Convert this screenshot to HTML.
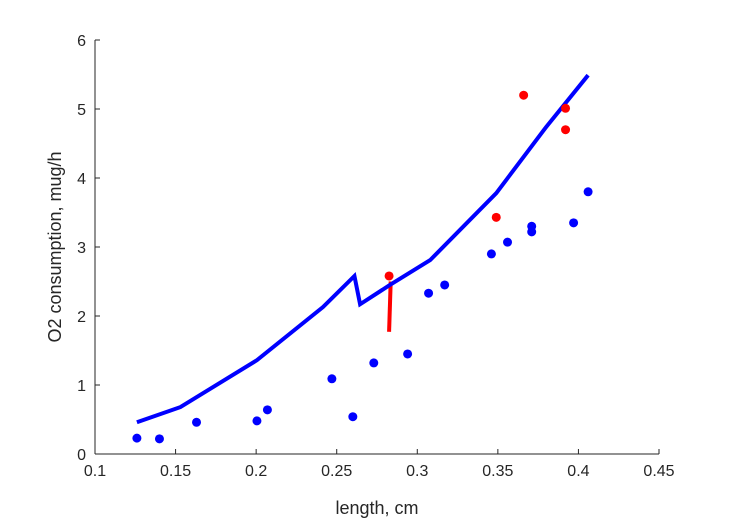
<!DOCTYPE html>
<html><head><meta charset="utf-8"><style>
body{margin:0;background:#fff;}
svg{display:block;font-family:"Liberation Sans",sans-serif;}
</style></head><body>
<svg id="chart" width="729" height="521" viewBox="0 0 729 521"></svg>
<script>
const xTicks=[0.1,0.15,0.2,0.25,0.3,0.35,0.4,0.45];
const yTicks=[0,1,2,3,4,5,6];
const blueX=[0.126,0.140,0.163,0.2005,0.207,0.247,0.260,0.273,0.294,0.307,0.317,0.346,0.356,0.371,0.371,0.397,0.406];
const blueY=[0.23,0.22,0.46,0.48,0.64,1.09,0.54,1.32,1.45,2.33,2.45,2.90,3.07,3.30,3.22,3.35,3.80];
const redX=[0.2825,0.349,0.366,0.392,0.392];
const redY=[2.58,3.43,5.20,5.01,4.70];
const curveX=[0.126,0.153,0.2005,0.2415,0.261,0.2645,0.283,0.308,0.349,0.380,0.406];
const curveY=[0.46,0.68,1.36,2.13,2.58,2.17,2.45,2.81,3.78,4.74,5.49];
const redLineX=[0.2835,0.2825];
const redLineY=[2.50,1.77];
const X0=95,X1=659,Y0=454,Y1=40;
const sx=v=>X0+(v-0.1)/(0.45-0.1)*(X1-X0);
const sy=v=>Y0-(v-0)/(6-0)*(Y0-Y1);
const svg=document.getElementById('chart');
const NS='http://www.w3.org/2000/svg';
function mk(t,a){const e=document.createElementNS(NS,t);for(const k in a)e.setAttribute(k,a[k]);svg.appendChild(e);return e;}
let e;
e=mk('line',{x1:X0,y1:Y0,x2:X1,y2:Y0,stroke:'#262626','stroke-width':1});


e=mk('line',{x1:X0,y1:Y0,x2:X0,y2:Y1,stroke:'#262626','stroke-width':1});


xTicks.forEach(v=>{
 e=mk('line',{x1:sx(v),y1:Y0,x2:sx(v),y2:Y0-5,stroke:'#262626'});
 
 
 e=mk('text',{x:sx(v),y:Y0+22,'text-anchor':'middle','font-size':16,fill:'#262626'});
 e.textContent=String(v);
 
 
});
yTicks.forEach(v=>{
 e=mk('line',{x1:X0,y1:sy(v),x2:X0+5,y2:sy(v),stroke:'#262626'});
 
 
 e=mk('text',{x:X0-9,y:sy(v)+6,'text-anchor':'end','font-size':16,fill:'#262626'});
 e.textContent=String(v);
 
 
});
e=mk('text',{x:377,y:514,'text-anchor':'middle','font-size':18,fill:'#262626'});
e.textContent='length, cm';


e=mk('text',{x:0,y:0,'text-anchor':'middle','font-size':18,fill:'#262626',transform:'translate(61,247) rotate(-90)'});
e.textContent='O2 consumption, mug/h';


e=mk('polyline',{points:redLineX.map((x,i)=>sx(x)+','+sy(redLineY[i])).join(' '),fill:'none',stroke:'#ff0000','stroke-width':4});


e=mk('polyline',{points:curveX.map((x,i)=>sx(x)+','+sy(curveY[i])).join(' '),fill:'none',stroke:'#0000ff','stroke-width':4,'stroke-linejoin':'miter'});


blueX.forEach((x,i)=>{
 e=mk('circle',{cx:sx(x),cy:sy(blueY[i]),r:4.5,fill:'#0000ff'});
 
 
});
redX.forEach((x,i)=>{
 e=mk('circle',{cx:sx(x),cy:sy(redY[i]),r:4.5,fill:'#ff0000'});
 
 
});
</script>
</body></html>
